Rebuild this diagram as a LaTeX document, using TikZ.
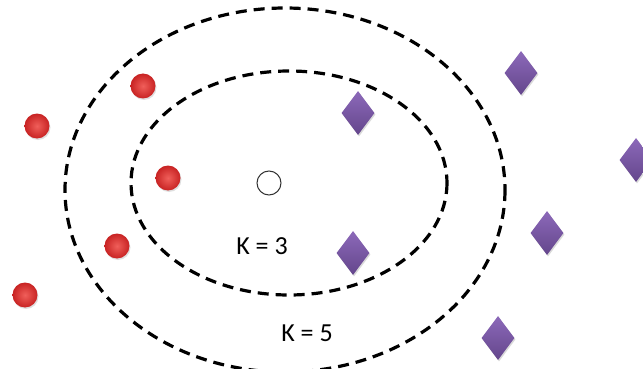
\documentclass[tikz,border=0pt]{standalone}
\usepackage{fontspec}
\newfontfamily\lblfont{Carlito}
\usetikzlibrary{shapes.geometric,shadows}

\definecolor{dotred}{RGB}{200,35,35}
\definecolor{dotlite}{RGB}{240,95,90}
\definecolor{gemtop}{RGB}{140,105,185}
\definecolor{gembot}{RGB}{100,70,140}

\begin{document}
\begin{tikzpicture}[x=1pt,y=-1pt]
   \tikzstyle{every node}=[inner sep=0pt]
   \tikzstyle{dot}=[circle,minimum size=25pt,inner color=dotlite,outer color=dotred,
      drop shadow={opacity=0.25,shadow xshift=1pt,shadow yshift=-1.5pt}]
   \tikzstyle{gem}=[diamond,minimum width=33pt,minimum height=44pt,
      top color=gemtop,bottom color=gembot,
      drop shadow={opacity=0.3,shadow xshift=1pt,shadow yshift=-1.5pt}]
   \tikzstyle{ring}=[line width=3.2pt,dash pattern=on 11pt off 7pt]

   \useasboundingbox (0,0) rectangle (643,369) ;

   % neighbourhoods
   \draw [ring] (285,190) ellipse [x radius=220,y radius=182] ;
   \draw [ring] (289,183) ellipse [x radius=158,y radius=112] ;

   % query point
   \node (q) at (269,183) [circle,draw=black!80,line width=1pt,fill=white,minimum size=24pt] {} ;

   % class A
   \node (r1) at (37,126) [dot] {} ;
   \node (r2) at (143,86) [dot] {} ;
   \node (r3) at (168,178) [dot] {} ;
   \node (r4) at (117,246) [dot] {} ;
   \node (r5) at (25,295) [dot] {} ;

   % class B
   \node (p1) at (358,113) [gem] {} ;
   \node (p2) at (521,73) [gem] {} ;
   \node (p3) at (636,160) [gem] {} ;
   \node (p4) at (547,233) [gem] {} ;
   \node (p5) at (353,253) [gem] {} ;
   \node (p6) at (498,338) [gem] {} ;

   \node (k3) at (262,246) {\lblfont\fontsize{26}{30}\selectfont K = 3} ;
   \node (k5) at (307,333) {\lblfont\fontsize{26}{30}\selectfont K = 5} ;

\end{tikzpicture}
\end{document}
